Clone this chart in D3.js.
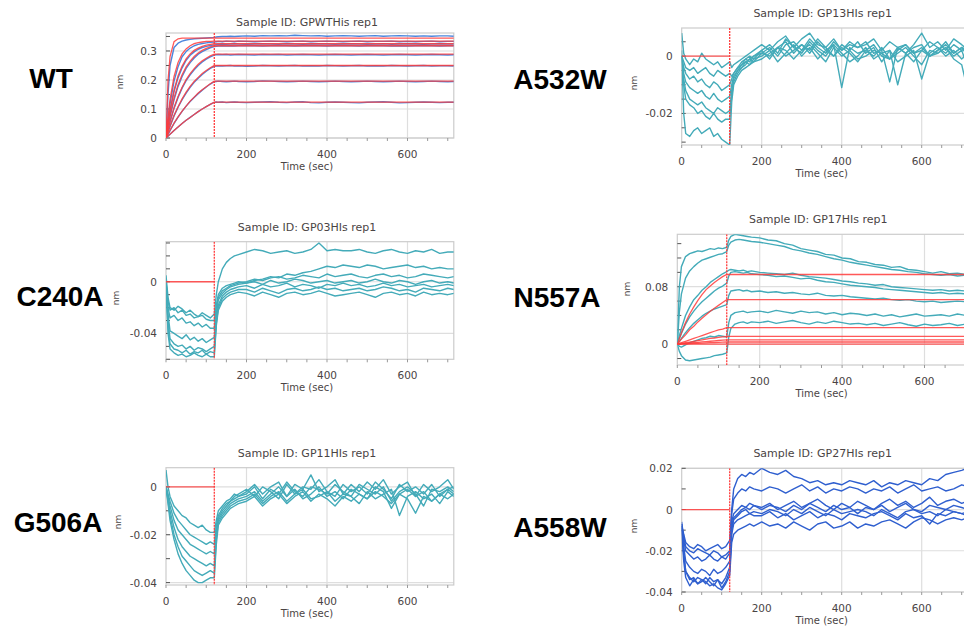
<!DOCTYPE html>
<html>
<head>
<meta charset="utf-8">
<script src="https://cdn.jsdelivr.net/npm/d3@7"></script>
<style>
  body { margin: 0; background: #fff; }
  svg { display: block; }
  .small { font-family: "DejaVu Sans", Verdana, sans-serif; font-size: 10px; fill: #4a4444; }
  .mutant { font-family: "Liberation Sans", Arial, sans-serif; font-size: 28px; font-weight: bold; fill: #000; }
</style>
</head>
<body>
<div id="chart"></div>
<script>
// Sample times (sec) shared by every measured trace
const times = [0,5,10,20,30,40,50,60,70,80,90,100,110,120,
  125,130,140,150,160,170,180,
  200,220,240,260,280,300,320,340,360,380,400,420,440,
  460,480,500,520,540,560,580,600,620,640,660,680,700,715];
// times for the fitted (red) curves
const fitTimes = [0,5,10,20,30,40,50,60,70,80,90,100,110,120,715];
const flatTimes = [0,120];
const flatFit = [0,0];

// all response values below are in pm (0.001 nm)

// WT - measured traces
const wtTraces = [
  [0,150,250,312,327,334,338,340,342,343,344,345,346,347, 348,349,350,350,351,350,351, 352,351,353,352,353,352,354,353,352,353,351,352,353, 352,351,352,353,351,352,353,352,351,352,351,352,352,351],
  [0,62,118,196,246,280,298,310,318,323,326,328,330,331, 332,333,332,334,333,332,334, 333,332,333,334,333,332,333,334,332,333,334,333,332, 333,334,332,333,333,334,332,333,332,333,334,332,333,333],
  [0,50,92,160,208,242,268,285,297,306,312,316,319,321, 322,323,324,323,324,325,324, 323,324,325,324,323,325,324,323,324,325,324,323,324, 325,324,323,324,325,323,324,325,324,323,324,325,324,324],
  [0,38,74,132,178,212,240,260,276,289,298,305,311,315, 316,317,318,317,318,317,318, 319,318,317,318,319,318,317,318,319,318,317,318,319, 318,317,318,319,318,317,318,317,318,319,318,317,318,318],
  [0,28,55,102,140,172,198,218,235,250,262,272,280,286, 287,288,287,288,286,287,288, 287,286,288,287,288,286,287,288,287,286,287,288,287, 286,287,288,287,286,287,288,287,286,287,288,287,286,287],
  [0,20,40,76,106,132,155,175,192,206,219,230,240,247, 248,249,248,249,250,248,249, 247,248,250,249,248,249,250,248,249,248,250,249,248, 249,250,248,249,248,250,249,248,249,250,248,249,249,248],
  [0,12,25,50,72,92,110,126,140,153,165,176,186,194, 195,196,195,194,195,196,195, 194,195,197,196,195,194,195,196,195,194,195,196,195, 194,195,196,195,194,195,196,195,194,195,196,195,194,195],
  [0,6,13,26,38,50,61,71,81,91,100,108,116,123, 124,123,124,122,123,124,123, 122,123,124,125,123,122,124,125,122,121,123,124,123, 122,121,123,124,125,123,121,122,123,124,123,122,123,123]
];
// WT - fitted curves
const wtFits = [
  [0,197,281,332,342,344,344,344,344,344,344,344,344,344,344],
  [0,74,132,212,260,290,307,318,325,329,331,333,333,334,334],
  [0,53,97,166,215,248,273,290,302,310,316,320,323,325,325],
  [0,42,78,138,184,218,245,265,281,293,302,309,314,318,318],
  [0,30,58,105,143,175,201,222,239,254,266,275,283,289,289],
  [0,22,42,78,108,135,158,178,195,209,222,233,242,250,250],
  [0,14,27,51,73,93,110,127,141,155,166,177,187,196,196],
  [0,7,13,26,38,50,61,71,81,91,100,108,116,124,124]
];

// A532W
const a532wTraces = [
  [8,1,-1,-3,-1,-2,1,-1,-2,-3,-2,-4,-3,-2, -4,-3,-2,-1,0,1,2, 4,2,5,7,3,6,8,4,3,6,2,5,3, 4,6,2,5,3,1,4,8,3,5,2,6,4,2],
  [0,-2,-4,-5,-4,-6,-5,-4,-6,-7,-5,-6,-7,-6, -7,-6,-4,-3,-1,0,-1, 2,4,1,6,3,1,5,2,0,4,-11,3,1, 2,0,3,-1,2,4,1,3,0,2,4,1,3,0],
  [0,-4,-6,-8,-7,-9,-8,-10,-11,-9,-10,-12,-11,-10, -8,-6,-4,-2,-1,-2,0, 1,3,0,4,5,2,6,3,1,5,2,4,3, 5,1,2,-9,3,4,1,2,5,3,1,4,2,3],
  [0,-6,-9,-11,-12,-13,-12,-14,-15,-13,-15,-16,-15,-14, -10,-7,-5,-3,-2,-1,0, 2,-1,3,5,1,4,2,6,3,0,4,2,5, 1,3,-2,2,-10,1,3,4,0,2,5,1,3,2],
  [0,-8,-12,-15,-16,-17,-16,-18,-19,-20,-18,-19,-20,-19, -12,-8,-5,-4,-2,-3,-1, 0,2,-2,1,4,0,3,-1,2,4,1,-2,0, 3,-1,1,2,-2,0,2,-8,1,3,0,2,-1,1],
  [0,-10,-15,-17,-18,-20,-19,-21,-22,-20,-22,-23,-22,-22, -14,-9,-6,-4,-3,-1,-2, 1,0,3,2,-1,2,4,1,-2,3,0,2,-1, 0,2,1,-1,3,1,-2,2,0,1,3,-1,-3,-12],
  [2,-20,-27,-28,-26,-25,-27,-26,-25,-28,-27,-29,-30,-31, -16,-10,-7,-5,-4,-3,-2, -1,1,3,0,2,4,1,5,2,0,3,1,-2, 2,4,0,-1,1,3,0,-3,2,1,3,0,2,-4]
];

// C240A
const c240aTraces = [
  [5,-12,-20,-22,-19,-21,-24,-22,-25,-27,-24,-26,-28,-25, -10,0,10,15,18,20,21, 23,25,24,22,23,24,22,23,25,30,24,25,24, 24,25,23,22,24,25,23,22,24,23,25,22,23,23],
  [0,-15,-22,-20,-24,-22,-26,-25,-28,-27,-26,-29,-30,-30, -18,-10,-5,-3,-2,-1,0, -1,1,2,4,3,6,5,7,8,10,12,11,13, 12,11,13,12,10,11,12,13,11,12,10,11,10,10],
  [0,-20,-28,-26,-30,-28,-32,-31,-34,-32,-35,-33,-36,-36, -20,-12,-7,-5,-3,-2,-1, 0,2,1,3,4,2,3,5,4,3,6,4,5, 6,4,3,5,6,4,5,3,4,6,5,4,3,4],
  [0,-25,-38,-40,-42,-44,-41,-45,-43,-46,-44,-47,-45,-43, -25,-14,-9,-6,-4,-3,-2, -1,0,-2,1,-1,0,2,1,-1,0,1,-1,0, 1,-1,0,2,0,-1,1,0,-2,0,1,-1,0,-1],
  [0,-30,-44,-48,-50,-49,-52,-50,-53,-51,-52,-54,-52,-50, -30,-18,-11,-8,-6,-5,-4, -3,-5,-2,-4,-3,-1,-4,-2,-3,-5,-2,-3,-1, -3,-2,-4,-3,-1,-3,-2,-4,-3,-2,-4,-3,-2,-3],
  [0,-35,-48,-52,-53,-55,-53,-56,-54,-55,-53,-56,-54,-55, -32,-20,-13,-10,-8,-7,-6, -6,-8,-5,-7,-9,-6,-5,-7,-6,-4,-6,-5,-7, -6,-5,-7,-6,-4,-5,-7,-6,-8,-5,-6,-7,-5,-6],
  [0,-40,-52,-55,-57,-56,-58,-57,-55,-57,-58,-56,-58,-58, -34,-22,-15,-12,-10,-9,-8, -9,-11,-8,-10,-12,-9,-8,-10,-9,-7,-9,-11,-10, -9,-8,-10,-12,-9,-8,-10,-9,-11,-8,-10,-9,-10,-9]
];

// N557A
const n557aTraces = [
  [0,80,108,122,126,128,130,129,131,133,132,134,133,135, 145,150,153,152,151,150,149, 148,145,144,140,138,133,131,129,125,124,120,119,115, 114,111,110,107,108,104,103,101,99,101,98,99,97,98],
  [0,45,70,92,102,108,113,117,119,121,123,125,126,129, 138,142,145,146,145,144,143, 142,140,138,136,132,130,127,125,122,119,117,114,112, 110,108,106,104,103,101,100,98,97,96,97,95,96,96],
  [0,12,22,40,52,62,68,75,80,86,90,94,98,101, 103,104,103,102,103,101,102, 100,99,98,97,99,96,94,93,92,90,88,87,85, 84,82,83,80,79,78,77,76,75,76,74,75,74,75],
  [0,8,15,28,38,46,53,59,64,69,74,78,81,85, 95,100,101,100,99,100,98, 97,96,94,95,93,91,92,89,87,86,84,82,81, 80,79,77,76,75,74,73,72,71,72,70,71,70,71],
  [0,4,8,16,23,29,34,39,43,46,49,51,53,55, 68,74,75,76,74,75,73, 74,72,73,71,72,70,69,71,68,67,68,66,65, 64,63,64,62,61,62,60,59,60,58,59,60,59,59],
  [0,-3,-4,-1,2,4,6,8,9,11,10,12,11,10, 30,40,44,45,46,44,45, 46,44,47,45,43,46,44,45,42,44,41,43,42, 40,42,39,41,38,40,42,39,40,41,39,42,40,41],
  [0,-10,-16,-22,-23,-22,-21,-20,-19,-18,-16,-15,-14,-12, 10,22,28,30,31,29,31, 30,32,29,31,33,30,28,31,29,32,30,28,29, 27,29,26,28,30,27,25,28,26,27,29,26,28,27]
];
const n557aFits = [
  [0,8,16,30,42,52,61,69,76,81,86,90,94,97,97],
  [0,3.5,7,13,20,25,31,36,41,46,50,54,58,62,62],
  [0,1,2,4,6,8,10,12,14,16,18,20,21,23,23],
  [0,0.5,1,2,3,4,5,6,7,8,8.6,9.4,10.2,11,11],
  [0,0.3,0.5,1,1.6,2.1,2.6,3.1,3.6,4.1,4.6,5.1,5.5,6,6],
  [0,0.1,0.3,0.5,0.8,1,1.3,1.6,1.8,2.1,2.3,2.6,2.8,3,3],
  [0,0,0,0,0,0,0,0,0,0,0,0,0,0,0]
];

// G506A
const g506aTraces = [
  [7,0,-4,-8,-10,-12,-13,-15,-16,-17,-16,-18,-19,-19, -14,-10,-8,-6,-5,-3,-4, -2,1,-3,0,2,-4,1,-1,5,-2,0,3,-3, 1,-2,2,-1,3,-3,0,2,-4,1,-2,0,3,-1],
  [0,-3,-6,-11,-14,-16,-18,-20,-21,-22,-23,-24,-23,-24, -16,-12,-9,-7,-6,-4,-3, -1,-4,0,-2,-5,1,-3,0,-1,3,-2,-4,1, -2,0,-3,2,-1,-5,1,-2,0,-3,1,-4,-1,0],
  [0,-4,-8,-14,-18,-20,-22,-24,-25,-26,-27,-28,-27,-28, -18,-13,-10,-8,-6,-5,-4, -3,0,-5,-1,-3,2,-2,-4,0,-1,-3,1,-2, -4,1,-1,-3,0,-6,-2,0,-3,-8,-1,-2,0,-2],
  [0,-5,-10,-17,-22,-25,-27,-29,-30,-31,-32,-33,-32,-33, -20,-14,-11,-9,-7,-6,-5, -4,-2,-6,-3,0,-4,-1,-5,-3,0,-4,-2,-5, -1,-3,-5,0,-2,-9,-3,-1,-4,-2,-6,-3,-1,-3],
  [0,-6,-12,-20,-25,-29,-31,-33,-35,-36,-37,-36,-35,-36, -22,-15,-12,-10,-8,-7,-6, -5,-3,-7,-4,-2,-6,-3,-1,-5,-4,-2,-6,-3, -4,-7,-2,-5,-3,-1,-12,-4,-2,-5,-3,-7,-2,-4],
  [0,-7,-14,-22,-28,-32,-35,-37,-39,-40,-40,-39,-38,-38, -24,-16,-13,-11,-9,-8,-7, -6,-4,-8,-5,-3,-7,-4,-2,-6,-3,-5,-8,-4, -6,-3,-5,-2,-4,-7,-3,-5,-11,-4,-6,-3,-5,-3]
];

// A558W
const a558wTraces = [
  [-7,-12,-16,-18,-19,-17,-18,-20,-19,-18,-17,-19,-18,-15, 0,10,15,17,16,18,17, 20,18,17,19,16,15,13,14,12,13,12,14,13, 12,14,11,13,12,14,13,12,15,14,17,18,19,20],
  [-8,-13,-18,-20,-21,-19,-20,-21,-22,-20,-21,-23,-22,-20, -2,5,8,10,9,11,10, 9,11,10,8,10,12,9,11,8,10,9,11,10, 8,10,9,11,8,10,12,9,10,11,9,10,12,11],
  [-7,-15,-20,-22,-24,-23,-25,-24,-22,-24,-25,-23,-24,-21, -6,-2,0,2,1,3,2, 1,3,0,2,4,1,3,5,2,0,3,1,4, 2,0,3,5,2,4,1,3,6,2,4,5,3,4],
  [-8,-18,-25,-28,-30,-31,-29,-30,-32,-29,-31,-30,-28,-25, -8,-4,-2,0,1,0,2, 0,2,1,-1,2,0,3,1,-1,2,0,1,-2, 1,0,2,-1,1,3,0,-1,2,1,0,2,1,0],
  [-9,-22,-30,-33,-35,-33,-34,-36,-33,-35,-34,-36,-33,-28, -10,-5,-3,-1,0,-2,-1, -2,0,-1,-3,0,-2,1,-1,-3,0,-2,-1,0, -1,-3,0,-2,-4,-1,0,-2,-1,-3,0,-1,-2,-1],
  [-10,-25,-33,-37,-34,-36,-35,-33,-35,-37,-34,-38,-35,-30, -12,-7,-5,-4,-3,-2,-3, -3,-1,-4,-2,-5,-3,-1,-4,-2,-3,-5,-2,-3, -4,-2,-1,-3,-5,-2,-4,-3,-7,-2,-3,-1,-2,-3],
  [-6,-20,-30,-34,-33,-36,-34,-35,-37,-36,-38,-39,-36,-32, -16,-12,-10,-9,-8,-7,-8, -6,-8,-7,-9,-6,-8,-10,-7,-6,-9,-8,-6,-9, -7,-8,-6,-5,-7,-9,-6,-4,-5,-7,-5,-4,-5,-4]
];

// axis tick labels
const xTicks = [0, 200, 400, 600];
const wtYTicks = [0, 0.1, 0.2, 0.3];
const a532wYTicks = [0, -0.02];
const c240aYTicks = [0, -0.04];
const n557aYTicks = [0, 0.08];
const g506aYTicks = [0, -0.02, -0.04];
const a558wYTicks = [0.02, 0, -0.02, -0.04];

const teal = "#44abb9";
const fitRed = "#ff3b3b";

// layout of each small panel
const panels = [
  { name: "WT", title: "Sample ID: GPWTHis rep1", traces: wtTraces, fits: wtFits, fitT: fitTimes,
    color: "#4d86dc", left: 166, pxPerSec: 0.4025, top: 33, bottom: 138, yDomain: [0, 0.362],
    yTicks: wtYTicks, minor: 0.05, labelX: 51, labelY: 88, titleY: 22, nmX: 123, nmY: 82 },
  { name: "A532W", title: "Sample ID: GP13HIs rep1", traces: a532wTraces, fits: [flatFit], fitT: flatTimes,
    color: teal, left: 681.7, pxPerSec: 0.4, top: 28, bottom: 145, yDomain: [-0.031, 0.0098],
    yTicks: a532wYTicks, minor: 0.005, labelX: 560, labelY: 89, titleY: 13, nmX: 637, nmY: 83 },
  { name: "C240A", title: "Sample ID: GP03HIs rep1", traces: c240aTraces, fits: [flatFit], fitT: flatTimes,
    color: teal, left: 166, pxPerSec: 0.4025, top: 241.7, bottom: 359.3, yDomain: [-0.06, 0.031],
    yTicks: c240aYTicks, minor: 0.01, labelX: 60, labelY: 306, titleY: 227, nmX: 119, nmY: 298 },
  { name: "N557A", title: "Sample ID: GP17HIs rep1", traces: n557aTraces, fits: n557aFits, fitT: fitTimes,
    color: teal, left: 677.3, pxPerSec: 0.412, top: 234.3, bottom: 365, yDomain: [-0.029, 0.153],
    yTicks: n557aYTicks, minor: 0.02, labelX: 557, labelY: 307, titleY: 219, nmX: 630, nmY: 289 },
  { name: "G506A", title: "Sample ID: GP11HIs rep1", traces: g506aTraces, fits: [flatFit], fitT: flatTimes,
    color: teal, left: 166, pxPerSec: 0.4025, top: 467.7, bottom: 585, yDomain: [-0.041, 0.008],
    yTicks: g506aYTicks, minor: 0.01, labelX: 58, labelY: 532, titleY: 453, nmX: 121, nmY: 522 },
  { name: "A558W", title: "Sample ID: GP27HIs rep1", traces: a558wTraces, fits: [flatFit], fitT: flatTimes,
    color: "#2f5fcf", left: 681.7, pxPerSec: 0.4, top: 468.3, bottom: 592, yDomain: [-0.04, 0.02],
    yTicks: a558wYTicks, minor: 0.01, labelX: 560, labelY: 537, titleY: 453, nmX: 637, nmY: 526 }
];

const svg = d3.select("#chart").append("svg")
  .attr("width", 964)
  .attr("height", 629);

panels.forEach((p, i) => {
  const x = d3.scaleLinear().domain([0, 715]).range([p.left, p.left + 715 * p.pxPerSec]);
  const y = d3.scaleLinear().domain(p.yDomain).range([p.bottom, p.top]);
  const right = x(715);
  const g = svg.append("g");

  svg.append("clipPath").attr("id", "clip" + i)
    .append("rect")
    .attr("x", p.left).attr("y", p.top)
    .attr("width", right - p.left).attr("height", p.bottom - p.top);

  // gridlines
  g.selectAll(".gx").data(xTicks.slice(1)).enter().append("line")
    .attr("x1", d => x(d)).attr("x2", d => x(d))
    .attr("y1", p.top).attr("y2", p.bottom)
    .attr("stroke", "#dedede").attr("stroke-width", 1.2);
  g.selectAll(".gy").data(p.yTicks).enter().append("line")
    .attr("x1", p.left).attr("x2", right)
    .attr("y1", d => y(d)).attr("y2", d => y(d))
    .attr("stroke", "#dedede").attr("stroke-width", 1.2);

  // frame
  g.append("rect")
    .attr("x", p.left).attr("y", p.top)
    .attr("width", right - p.left).attr("height", p.bottom - p.top)
    .attr("fill", "none").attr("stroke", "#cccccc").attr("stroke-width", 1.2);

  // small ticks along the left edge (inside) and bottom edge
  const lo = Math.ceil(p.yDomain[0] / p.minor - 1e-6), hi = Math.floor(p.yDomain[1] / p.minor + 1e-6);
  const yMinor = d3.range(lo, hi + 1).map(k => k * p.minor);
  g.selectAll(".ty").data(yMinor).enter().append("line")
    .attr("x1", p.left).attr("x2", p.left + 4)
    .attr("y1", d => y(d)).attr("y2", d => y(d))
    .attr("stroke", "#555").attr("stroke-width", 1);
  g.selectAll(".tx").data(d3.range(0, 750, 50)).enter().append("line")
    .attr("x1", d => x(d)).attr("x2", d => x(d))
    .attr("y1", p.bottom).attr("y2", p.bottom + 3)
    .attr("stroke", "#999").attr("stroke-width", 1);

  // tick labels
  g.selectAll(".lx").data(xTicks).enter().append("text")
    .attr("class", "small")
    .style("font-size", "10.5px")
    .attr("x", d => x(d)).attr("y", p.bottom + 20)
    .attr("text-anchor", "middle")
    .text(d => d);
  g.selectAll(".ly").data(p.yTicks).enter().append("text")
    .attr("class", "small")
    .style("font-size", "10.5px")
    .attr("x", p.left - 9).attr("y", d => y(d) + 4)
    .attr("text-anchor", "end")
    .text(d => String(d));

  g.append("text").attr("class", "small")
    .attr("x", (p.left + x(715)) / 2 - 3).attr("y", p.bottom + 32)
    .attr("text-anchor", "middle")
    .text("Time (sec)");
  g.append("text").attr("class", "small")
    .attr("transform", `translate(${p.nmX},${p.nmY}) rotate(-90)`)
    .attr("text-anchor", "middle")
    .style("font-size", "9px")
    .text("nm");
  g.append("text").attr("class", "small")
    .attr("x", p.left + 141).attr("y", p.titleY + 4)
    .attr("text-anchor", "middle")
    .style("font-size", "11px")
    .text(p.title);

  // traces
  const plot = g.append("g").attr("clip-path", `url(#clip${i})`);
  const line = d3.line().x(d => x(d[0])).y(d => y(d[1] / 1000));
  p.traces.forEach(tr => {
    plot.append("path")
      .datum(d3.zip(times, tr))
      .attr("d", line)
      .attr("fill", "none")
      .attr("stroke", p.color)
      .attr("stroke-width", 1.4)
      .attr("stroke-linejoin", "round");
  });
  p.fits.forEach(f => {
    plot.append("path")
      .datum(d3.zip(p.fitT, f))
      .attr("d", line)
      .attr("fill", "none")
      .attr("stroke", fitRed)
      .attr("stroke-opacity", 0.85)
      .attr("stroke-width", 1.3);
  });
  // start of dissociation
  plot.append("line")
    .attr("x1", x(120)).attr("x2", x(120))
    .attr("y1", p.top).attr("y2", p.bottom)
    .attr("stroke", fitRed).attr("stroke-width", 1.3)
    .attr("stroke-dasharray", "2,1");

  // mutant label
  svg.append("text").attr("class", "mutant")
    .attr("x", p.labelX).attr("y", p.labelY)
    .attr("text-anchor", "middle")
    .text(p.name);
});
</script>
</body>
</html>
